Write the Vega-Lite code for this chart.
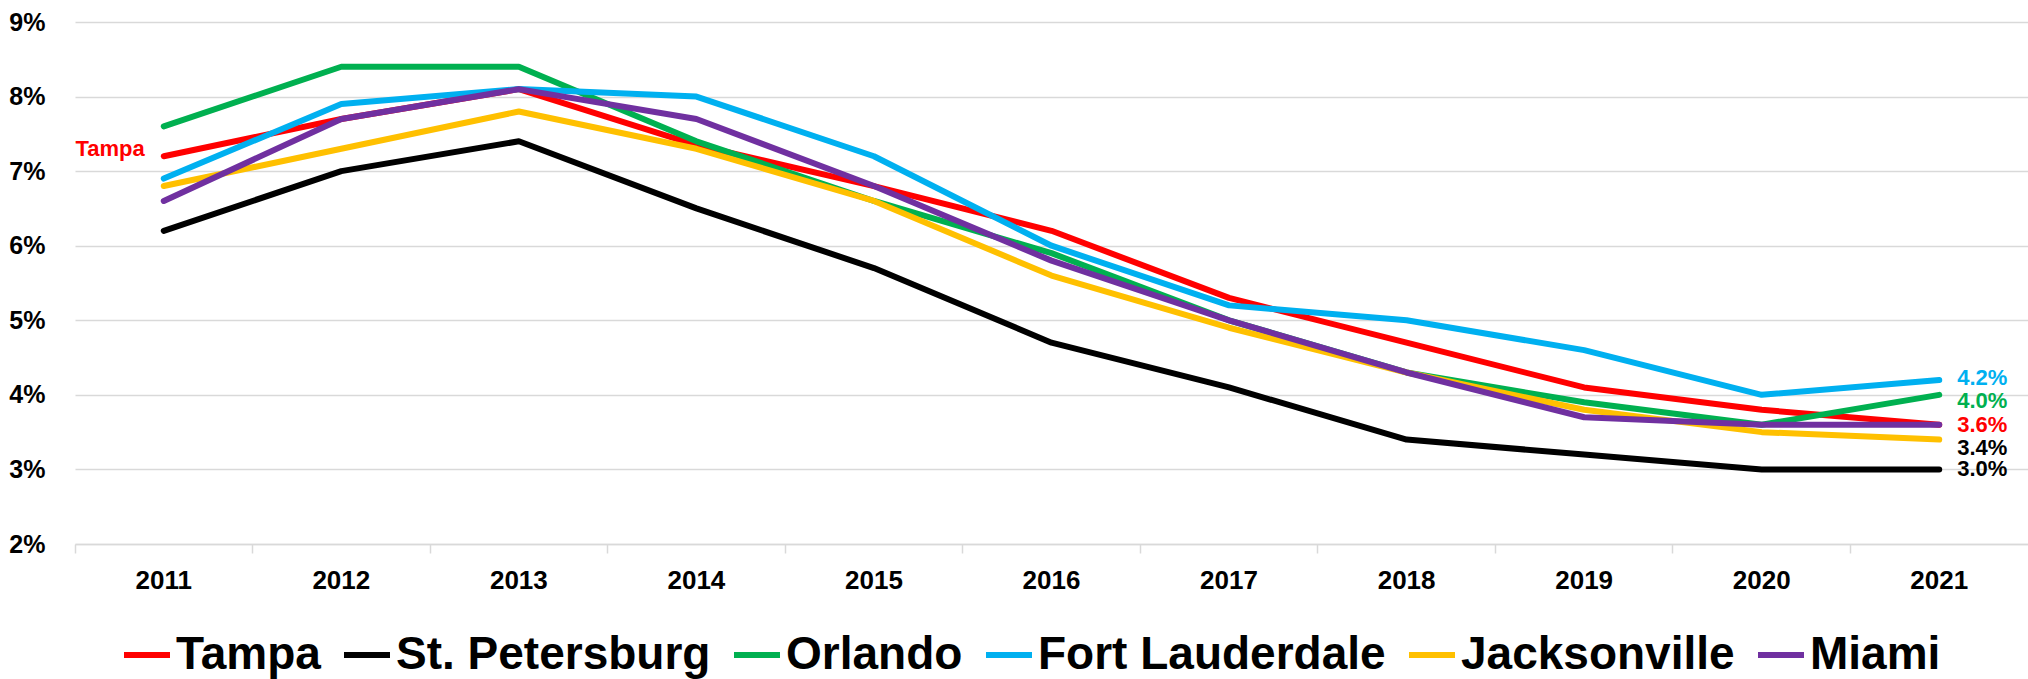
{
  "$schema": "https://vega.github.io/schema/vega-lite/v6.json",
  "width": 1953,
  "height": 522,
  "autosize": {"type": "none"},
  "padding": {"left": 75, "top": 22, "right": 0, "bottom": 135},
  "background": "white",
  "config": {"view": {"stroke": null}, "font": "Liberation Sans"},
  "data": {
    "values": [
      {"city": "Tampa", "year": 2011, "rate": 0.072},
      {"city": "Tampa", "year": 2012, "rate": 0.077},
      {"city": "Tampa", "year": 2013, "rate": 0.081},
      {"city": "Tampa", "year": 2014, "rate": 0.0735},
      {"city": "Tampa", "year": 2015, "rate": 0.068},
      {"city": "Tampa", "year": 2016, "rate": 0.062},
      {"city": "Tampa", "year": 2017, "rate": 0.053},
      {"city": "Tampa", "year": 2018, "rate": 0.047},
      {"city": "Tampa", "year": 2019, "rate": 0.041},
      {"city": "Tampa", "year": 2020, "rate": 0.038},
      {"city": "Tampa", "year": 2021, "rate": 0.036},
      {"city": "St. Petersburg", "year": 2011, "rate": 0.062},
      {"city": "St. Petersburg", "year": 2012, "rate": 0.070},
      {"city": "St. Petersburg", "year": 2013, "rate": 0.074},
      {"city": "St. Petersburg", "year": 2014, "rate": 0.065},
      {"city": "St. Petersburg", "year": 2015, "rate": 0.057},
      {"city": "St. Petersburg", "year": 2016, "rate": 0.047},
      {"city": "St. Petersburg", "year": 2017, "rate": 0.041},
      {"city": "St. Petersburg", "year": 2018, "rate": 0.034},
      {"city": "St. Petersburg", "year": 2019, "rate": 0.032},
      {"city": "St. Petersburg", "year": 2020, "rate": 0.030},
      {"city": "St. Petersburg", "year": 2021, "rate": 0.030},
      {"city": "Orlando", "year": 2011, "rate": 0.076},
      {"city": "Orlando", "year": 2012, "rate": 0.084},
      {"city": "Orlando", "year": 2013, "rate": 0.084},
      {"city": "Orlando", "year": 2014, "rate": 0.074},
      {"city": "Orlando", "year": 2015, "rate": 0.066},
      {"city": "Orlando", "year": 2016, "rate": 0.059},
      {"city": "Orlando", "year": 2017, "rate": 0.050},
      {"city": "Orlando", "year": 2018, "rate": 0.043},
      {"city": "Orlando", "year": 2019, "rate": 0.039},
      {"city": "Orlando", "year": 2020, "rate": 0.036},
      {"city": "Orlando", "year": 2021, "rate": 0.040},
      {"city": "Fort Lauderdale", "year": 2011, "rate": 0.069},
      {"city": "Fort Lauderdale", "year": 2012, "rate": 0.079},
      {"city": "Fort Lauderdale", "year": 2013, "rate": 0.081},
      {"city": "Fort Lauderdale", "year": 2014, "rate": 0.080},
      {"city": "Fort Lauderdale", "year": 2015, "rate": 0.072},
      {"city": "Fort Lauderdale", "year": 2016, "rate": 0.060},
      {"city": "Fort Lauderdale", "year": 2017, "rate": 0.052},
      {"city": "Fort Lauderdale", "year": 2018, "rate": 0.050},
      {"city": "Fort Lauderdale", "year": 2019, "rate": 0.046},
      {"city": "Fort Lauderdale", "year": 2020, "rate": 0.040},
      {"city": "Fort Lauderdale", "year": 2021, "rate": 0.042},
      {"city": "Jacksonville", "year": 2011, "rate": 0.068},
      {"city": "Jacksonville", "year": 2012, "rate": 0.073},
      {"city": "Jacksonville", "year": 2013, "rate": 0.078},
      {"city": "Jacksonville", "year": 2014, "rate": 0.073},
      {"city": "Jacksonville", "year": 2015, "rate": 0.066},
      {"city": "Jacksonville", "year": 2016, "rate": 0.056},
      {"city": "Jacksonville", "year": 2017, "rate": 0.049},
      {"city": "Jacksonville", "year": 2018, "rate": 0.043},
      {"city": "Jacksonville", "year": 2019, "rate": 0.038},
      {"city": "Jacksonville", "year": 2020, "rate": 0.035},
      {"city": "Jacksonville", "year": 2021, "rate": 0.034},
      {"city": "Miami", "year": 2011, "rate": 0.066},
      {"city": "Miami", "year": 2012, "rate": 0.077},
      {"city": "Miami", "year": 2013, "rate": 0.081},
      {"city": "Miami", "year": 2014, "rate": 0.077},
      {"city": "Miami", "year": 2015, "rate": 0.068},
      {"city": "Miami", "year": 2016, "rate": 0.058},
      {"city": "Miami", "year": 2017, "rate": 0.050},
      {"city": "Miami", "year": 2018, "rate": 0.043},
      {"city": "Miami", "year": 2019, "rate": 0.037},
      {"city": "Miami", "year": 2020, "rate": 0.036},
      {"city": "Miami", "year": 2021, "rate": 0.036}
    ]
  },
  "encoding": {
    "x": {
      "field": "year",
      "type": "ordinal",
      "bandPosition": 0.5,
      "scale": {"type": "band", "paddingInner": 0, "paddingOuter": 0},
      "axis": {
        "title": null,
        "labelAngle": 0,
        "bandPosition": 0,
        "labelFont": "Liberation Sans",
        "labelFontSize": 26,
        "labelFontWeight": "bold",
        "labelColor": "black",
        "labelPadding": 14,
        "ticks": true,
        "tickSize": 9,
        "tickColor": "#D9D9D9",
        "tickWidth": 1.5,
        "domainColor": "#D9D9D9",
        "domainWidth": 1.5,
        "grid": false
      }
    },
    "y": {
      "field": "rate",
      "type": "quantitative",
      "scale": {"domain": [0.02, 0.09], "nice": false, "zero": false},
      "axis": {
        "title": null,
        "values": [0.02, 0.03, 0.04, 0.05, 0.06, 0.07, 0.08, 0.09],
        "format": ".0%",
        "labelFont": "Liberation Sans",
        "labelFontSize": 25,
        "labelFontWeight": "bold",
        "labelColor": "black",
        "labelPadding": 30,
        "ticks": false,
        "domain": false,
        "grid": true,
        "gridColor": "#D9D9D9",
        "gridWidth": 1.5
      }
    },
    "color": {
      "field": "city",
      "type": "nominal",
      "sort": ["Tampa", "St. Petersburg", "Orlando", "Fort Lauderdale", "Jacksonville", "Miami"],
      "scale": {
        "domain": ["Tampa", "St. Petersburg", "Orlando", "Fort Lauderdale", "Jacksonville", "Miami"],
        "range": ["#FF0000", "#000000", "#00B050", "#00B0F0", "#FFC000", "#7030A0"]
      },
      "legend": {
        "orient": "none",
        "legendX": 46,
        "legendY": 607,
        "direction": "horizontal",
        "title": null,
        "symbolType": "stroke",
        "symbolSize": 2116,
        "symbolStrokeWidth": 6,
        "labelFont": "Liberation Sans",
        "labelFontSize": 46,
        "labelFontWeight": "bold",
        "labelColor": "black",
        "labelOffset": 3,
        "columnPadding": 11,
        "labelLimit": 0,
        "padding": 0
      }
    }
  },
  "layer": [
    {
      "mark": {"type": "line", "strokeWidth": 6, "strokeCap": "round", "strokeJoin": "round"}
    },
    {
      "transform": [{"filter": "datum.year == 2021 && (datum.city == 'Tampa' || datum.city == 'St. Petersburg')"}],
      "mark": {"type": "text", "align": "left", "baseline": "middle", "dx": 18, "fontSize": 22, "fontWeight": "bold", "font": "Liberation Sans"},
      "encoding": {"text": {"field": "rate", "type": "quantitative", "format": ".1%"}}
    },
    {
      "transform": [{"filter": "datum.year == 2021 && datum.city == 'Fort Lauderdale'"}],
      "mark": {"type": "text", "align": "left", "baseline": "middle", "dx": 18, "dy": -2, "fontSize": 22, "fontWeight": "bold", "font": "Liberation Sans"},
      "encoding": {"text": {"field": "rate", "type": "quantitative", "format": ".1%"}}
    },
    {
      "transform": [{"filter": "datum.year == 2021 && datum.city == 'Orlando'"}],
      "mark": {"type": "text", "align": "left", "baseline": "middle", "dx": 18, "dy": 6, "fontSize": 22, "fontWeight": "bold", "font": "Liberation Sans"},
      "encoding": {"text": {"field": "rate", "type": "quantitative", "format": ".1%"}}
    },
    {
      "transform": [{"filter": "datum.year == 2021 && datum.city == 'Jacksonville'"}],
      "mark": {"type": "text", "align": "left", "baseline": "middle", "dx": 18, "dy": 8, "fontSize": 22, "fontWeight": "bold", "font": "Liberation Sans", "color": "black"},
      "encoding": {"text": {"field": "rate", "type": "quantitative", "format": ".1%"}, "color": {"value": "black"}}
    },
    {
      "transform": [{"filter": "datum.year == 2011 && datum.city == 'Tampa'"}],
      "mark": {"type": "text", "align": "right", "baseline": "middle", "dx": -19, "dy": -7, "fontSize": 22, "fontWeight": "bold", "font": "Liberation Sans"},
      "encoding": {"text": {"field": "city", "type": "nominal"}}
    }
  ]
}
